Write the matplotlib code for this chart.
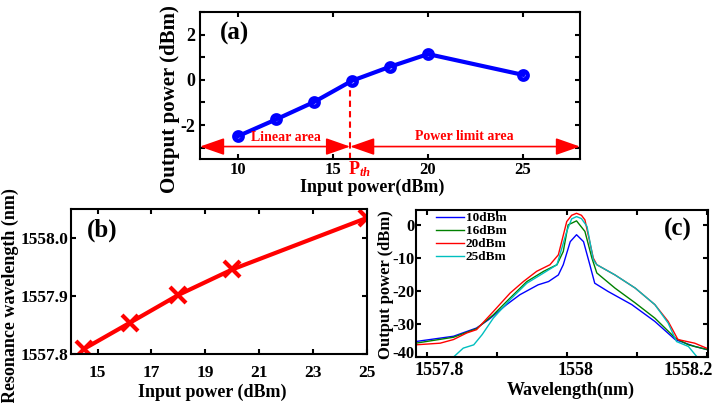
import numpy as np
import matplotlib
matplotlib.use('Agg')
import matplotlib.pyplot as plt
from matplotlib.transforms import ScaledTranslation

# (a) output power vs input power
pin_a = [10, 12, 14, 16, 18, 20, 25]
pout_a = [-2.49, -1.75, -0.98, -0.04, 0.58, 1.14, 0.22]
p_th = 15.9

# (b) resonance wavelength vs input power
pin_b = [14.5, 16.2, 18.0, 20.0, 25.0]
lam_b = [1557.809, 1557.854, 1557.902, 1557.946, 1558.035]

# (c) spectra
lam_10 = [1557.784, 1557.838, 1557.871, 1557.888, 1557.914, 1557.933, 1557.959, 1557.974,
          1557.988, 1557.995, 1558.005, 1558.014, 1558.024, 1558.033, 1558.040, 1558.059,
          1558.093, 1558.126, 1558.155, 1558.183, 1558.202]
pw_10 = [-35.4, -33.8, -31.3, -28.8, -24.2, -21.2, -18.2, -17.2,
         -15.2, -12.1, -5.1, -3.0, -5.1, -12.1, -17.7, -20.2,
         -24.2, -29.3, -34.8, -36.9, -37.9]
lam_16 = [1557.784, 1557.838, 1557.871, 1557.895, 1557.919, 1557.943, 1557.967, 1557.986,
          1557.995, 1558.002, 1558.014, 1558.026, 1558.036, 1558.043, 1558.069, 1558.098,
          1558.126, 1558.155, 1558.174, 1558.202]
pw_16 = [-35.9, -34.1, -31.5, -27.3, -22.2, -17.2, -14.1, -12.1,
         -8.1, 0.0, 1.2, -2.0, -10.1, -14.6, -19.2, -23.7,
         -28.3, -34.3, -36.4, -37.9]
lam_20 = [1557.784, 1557.819, 1557.838, 1557.857, 1557.871, 1557.895, 1557.919, 1557.938,
          1557.957, 1557.976, 1557.988, 1558.000, 1558.007, 1558.014, 1558.021, 1558.026,
          1558.038, 1558.043, 1558.069, 1558.098, 1558.126, 1558.145, 1558.159, 1558.183, 1558.202]
pw_20 = [-36.4, -35.9, -34.8, -32.8, -31.8, -26.3, -20.7, -17.2,
         -14.1, -12.1, -9.1, 1.0, 2.9, 3.5, 2.9, 1.5,
         -10.1, -12.1, -15.2, -19.2, -24.2, -29.3, -34.8, -35.9, -37.6]
lam_25 = [1557.836, 1557.852, 1557.867, 1557.879, 1557.895, 1557.919, 1557.943, 1557.967,
          1557.986, 1558.000, 1558.007, 1558.014, 1558.021, 1558.029, 1558.038, 1558.043,
          1558.069, 1558.098, 1558.126, 1558.145, 1558.157, 1558.174, 1558.188]
pw_25 = [-40.5, -37.4, -36.4, -33.3, -28.3, -22.7, -17.7, -14.6,
         -12.1, -2.0, 1.8, 2.5, 1.9, -0.5, -10.6, -12.1,
         -15.2, -19.2, -24.2, -29.8, -35.4, -36.9, -40.5]
spec_labels = ['10dBm', '16dBm', '20dBm', '25dBm']
spec_colors = ['#0000ff', '#008000', '#ff0000', '#00bfbf']

plt.rcParams['font.family'] = 'Liberation Serif'
plt.rcParams['font.weight'] = 'bold'
plt.rcParams['mathtext.fontset'] = 'custom'
plt.rcParams['mathtext.rm'] = 'Liberation Serif:bold'
plt.rcParams['mathtext.it'] = 'Liberation Serif:italic:bold'
plt.rcParams['axes.linewidth'] = 1.5
for a in ['xtick', 'ytick']:
    plt.rcParams[a + '.direction'] = 'in'
    plt.rcParams[a + '.major.size'] = 3.5
    plt.rcParams[a + '.major.width'] = 1.5
plt.rcParams['xtick.top'] = True
plt.rcParams['ytick.right'] = True

W, H = 715, 403
fig = plt.figure(figsize=(7.15, 4.03), dpi=100)


def box(l, t, r, b):
    return fig.add_axes([l / W, 1 - b / H, (r - l) / W, (b - t) / H])


def ftext(x, y, s, **kw):
    fig.text(x / W, 1 - y / H, s, ha='center', va='center', **kw)


def shift(lab, dx, dy=0):
    lab.set_transform(lab.get_transform() + ScaledTranslation(dx / 100, -dy / 100, fig.dpi_scale_trans))


ax_a = box(200, 12, 580, 159)
ax_b = box(70.7, 209.3, 366.7, 354)
ax_c = box(415.7, 210, 708, 356.7)

# ---- (a)
ax_a.plot([p_th, p_th], [-3.5, pout_a[3]], color='red', lw=1.5, ls=(0, (3, 2)), zorder=2)
ax_a.plot(pin_a, pout_a, color='#0000ff', lw=3, marker='o', ms=6, mfc='none', mew=3.2, zorder=3)
arr = dict(arrowstyle='<|-|>,head_length=1.0,head_width=0.35', mutation_scale=15,
           color='red', lw=1.2, shrinkA=0, shrinkB=0)
ax_a.annotate('', xy=(8, -2.95), xytext=(p_th, -2.95), arrowprops=arr)
ax_a.annotate('', xy=(p_th, -2.95), xytext=(28, -2.95), arrowprops=arr)
ax_a.text(12.5, -2.55, 'Linear area', color='red', fontsize=10, ha='center', va='center')
ax_a.text(21.9, -2.5, 'Power limit area', color='red', fontsize=10, ha='center', va='center')
ax_a.text(p_th - 0.1, -3.93, r'P$_{th}$', color='red', fontsize=13, ha='left', va='center', clip_on=False)
ax_a.text(0.092, 0.857, '(a)', transform=ax_a.transAxes, fontsize=18, ha='center', va='center')
ax_a.set_xlim(8, 28)
ax_a.set_ylim(-3.5, 3)
ax_a.set_xticks([10, 15, 20, 25])
ax_a.set_yticks([-3, -2, -1, 0, 1, 2, 3])
ax_a.set_yticklabels(['', '-2', '', '0', '', '2', ''])
ax_a.tick_params(axis='x', labelsize=12, pad=2.5)
ax_a.tick_params(axis='y', labelsize=13, pad=3.5)
ftext(170, 99, 'Output power (dBm)', rotation=90, fontsize=15)
ftext(372, 187, 'Input power(dBm)', fontsize=13)

# ---- (b)
ax_b.plot(pin_b, lam_b, color='#ff0000', lw=3, marker='x', ms=11, mew=3)
ax_b.text(0.106, 0.857, '(b)', transform=ax_b.transAxes, fontsize=18, ha='center', va='center')
ax_b.set_xlim(14, 25)
ax_b.set_ylim(1557.8, 1558.05)
ax_b.set_xticks([15, 17, 19, 21, 23, 25])
ax_b.set_yticks([1557.8, 1557.9, 1558.0])
ax_b.set_yticklabels(['1557.8', '1557.9', '1558.0'])
ax_b.tick_params(axis='x', labelsize=12.5, pad=8)
ax_b.tick_params(axis='y', labelsize=12.5, pad=1.5)
ftext(10, 296, 'Resonance wavelength (nm)', rotation=90, fontsize=13)
ftext(212, 392.7, 'Input power (dBm)', fontsize=13)

# ---- (c)
for lam, pw, lab, col in zip([lam_10, lam_16, lam_20, lam_25], [pw_10, pw_16, pw_20, pw_25],
                             spec_labels, spec_colors):
    ax_c.plot(lam, pw, color=col, lw=1.0, label=lab)
ax_c.legend(loc='upper left', bbox_to_anchor=(0.07, 0.985), frameon=False, fontsize=9.5,
            handlelength=2.1, handletextpad=0.15, labelspacing=0.05, borderpad=0, borderaxespad=0)
ax_c.text(0.897, 0.864, '(c)', transform=ax_c.transAxes, fontsize=18, ha='center', va='center')
ax_c.set_xlim(1557.784, 1558.202)
ax_c.set_ylim(-40, 4.5)
ax_c.set_xticks([1557.8, 1557.9, 1558.0, 1558.1, 1558.2])
ax_c.set_xticklabels(['1557.8', '', '1558', '', '1558.2'])
yt_c = [-40, -30, -20, -10, 0]
ax_c.set_yticks(yt_c)
ax_c.set_yticklabels(['%d' % v for v in yt_c])
ax_c.tick_params(axis='x', labelsize=13, pad=4)
ax_c.tick_params(axis='y', labelsize=12, pad=1)
xl = ax_c.get_xticklabels()
shift(xl[0], 12)
shift(xl[2], 9)
shift(xl[4], -18)
shift(ax_c.get_yticklabels()[0], 0, -5)
ftext(386, 285, 'Output power (dBm)', rotation=90, fontsize=12)
ftext(571, 390, 'Wavelength(nm)', fontsize=13)

fig.savefig('out.png', dpi=100)
